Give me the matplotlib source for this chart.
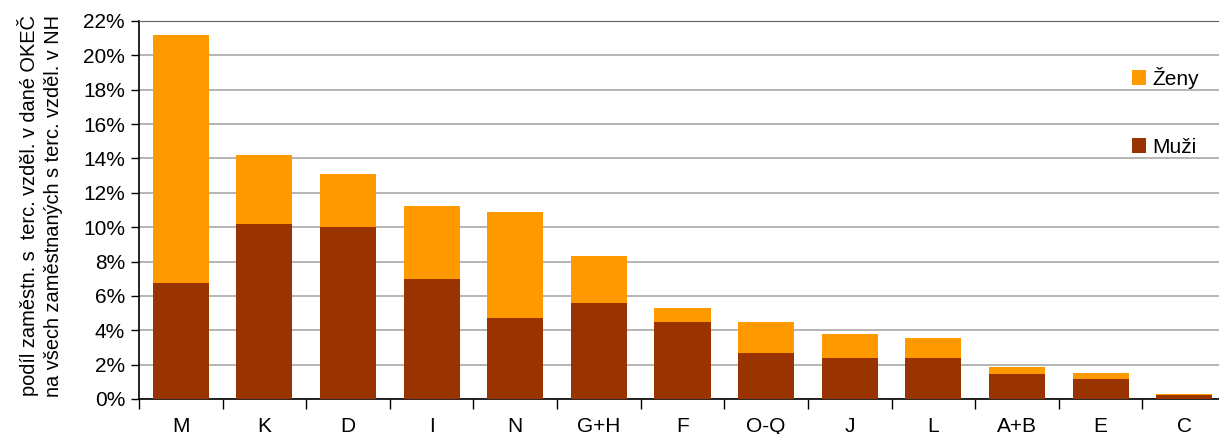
import numpy as np
import matplotlib.pyplot as plt

plt.rcParams['font.family'] = ['Liberation Sans', 'DejaVu Sans']

# data (share of employees with tertiary education, %)
kategorie = ['M', 'K', 'D', 'I', 'N', 'G+H', 'F', 'O-Q', 'J', 'L', 'A+B', 'E', 'C']
muzi = [6.75, 10.19, 10.01, 6.98, 4.71, 5.59, 4.50, 2.65, 2.36, 2.36, 1.43, 1.14, 0.21]
celkem = [21.19, 14.2, 13.1, 11.23, 10.88, 8.32, 5.31, 4.50, 3.81, 3.57, 1.84, 1.49, 0.27]
zeny = [c - m for c, m in zip(celkem, muzi)]

c_muzi = '#993300'
c_zeny = '#FF9900'

fig = plt.figure(figsize=(12.19, 4.34), dpi=100)
ax = fig.add_axes([139/1219, 35/434, 1087/1219, 378/434])

x = np.arange(len(kategorie))
ax.bar(x, muzi, width=0.67, color=c_muzi, label='Muži', zorder=3)
ax.bar(x, zeny, width=0.67, bottom=muzi, color=c_zeny, label='Ženy', zorder=3)

ax.set_xlim(-0.5, len(kategorie) - 0.5)
ax.set_ylim(0, 22)
ax.set_yticks(np.arange(0, 23, 2))
ax.set_yticklabels([f'{v}%' for v in range(0, 23, 2)], fontsize=15)
ax.set_xticks(x)
ax.set_xticklabels(kategorie, fontsize=15)
ax.set_xticks(np.arange(-0.5, len(kategorie), 1), minor=True)
# labels kept fully inside the picture (the original crops them at the bottom)
ax.tick_params(axis='x', which='major', length=0, pad=13)
ax.tick_params(axis='x', which='minor', length=7, width=1, color='black')
ax.tick_params(axis='y', length=6, width=1, pad=4)

ax.yaxis.grid(True, color='#A8A8A8', linewidth=1.2, zorder=0)
ax.spines['right'].set_visible(False)
ax.spines['top'].set_color('#606060')
ax.spines['left'].set_linewidth(1.2)
ax.spines['bottom'].set_linewidth(1.2)

fig.text(40/1219, 228/434,
         'podíl zaměstn. s  terc. vzděl. v dané OKEČ\nna všech zaměstnaných s terc. vzděl. v NH',
         rotation=90, ha='center', va='center', fontsize=14.4, linespacing=1.3)

h, l = ax.get_legend_handles_labels()
ax.legend(h[::-1], l[::-1], loc='upper left', bbox_to_anchor=(1113/1219, 386/434),
          bbox_transform=fig.transFigure, frameon=False, fontsize=15,
          handlelength=0.7, handleheight=0.7, handletextpad=0.3, labelspacing=2.35)

fig.savefig('out.png', dpi=100)
